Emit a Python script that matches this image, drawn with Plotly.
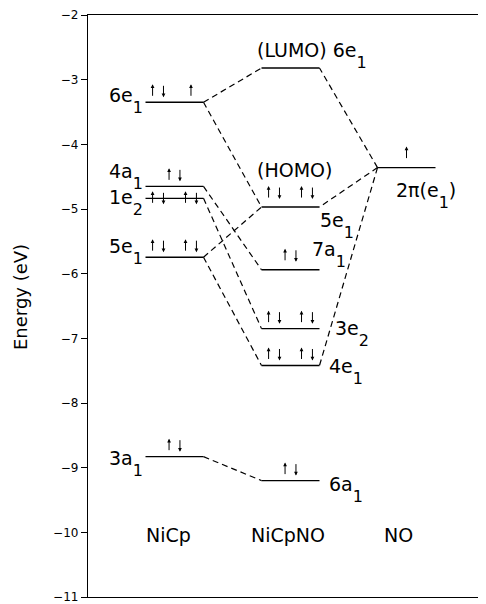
import plotly.graph_objects as go

# ---------------- data ----------------
columns = ["NiCp", "NiCpNO", "NO"]

nicp_levels = ["6e_1", "4a_1", "1e_2", "5e_1", "3a_1"]
nicp_energy = [-3.35, -4.65, -4.835, -5.745, -8.83]
nicp_occupancy = ["↑↓ ↑", "↑↓", "↑↓ ↑↓", "↑↓ ↑↓", "↑↓"]

nicpno_levels = ["6e_1", "5e_1", "7a_1", "3e_2", "4e_1", "6a_1"]
nicpno_energy = [-2.82, -4.97, -5.94, -6.85, -7.42, -9.20]
nicpno_occupancy = ["", "↑↓ ↑↓", "↑↓", "↑↓ ↑↓", "↑↓ ↑↓", "↑↓"]
nicpno_tags = ["(LUMO)", "(HOMO)", "", "", "", ""]

no_levels = ["2π(e_1)"]
no_energy = [-4.36]
no_occupancy = ["↑"]

correlations = [
    ("NiCp", "6e_1", "NiCpNO", "6e_1"),
    ("NiCp", "6e_1", "NiCpNO", "5e_1"),
    ("NiCp", "4a_1", "NiCpNO", "7a_1"),
    ("NiCp", "1e_2", "NiCpNO", "3e_2"),
    ("NiCp", "5e_1", "NiCpNO", "5e_1"),
    ("NiCp", "5e_1", "NiCpNO", "4e_1"),
    ("NiCp", "3a_1", "NiCpNO", "6a_1"),
    ("NO", "2π(e_1)", "NiCpNO", "6e_1"),
    ("NO", "2π(e_1)", "NiCpNO", "5e_1"),
    ("NO", "2π(e_1)", "NiCpNO", "4e_1"),
]

# ---------------- style / layout ----------------
FONT = "DejaVu Sans"
LBL = 19
SUB = 16
SUB_SHIFT = 11
SUB_CORR = 4.5   # vertical correction for the taller box of subscripted labels
HALF = 0.25
col_x = {"NiCp": 1.0, "NiCpNO": 2.0, "NO": 3.0}
ALEN = 13

levels = {
    "NiCp": dict(zip(nicp_levels, nicp_energy)),
    "NiCpNO": dict(zip(nicpno_levels, nicpno_energy)),
    "NO": dict(zip(no_levels, no_energy)),
}
occ = {
    "NiCp": dict(zip(nicp_levels, nicp_occupancy)),
    "NiCpNO": dict(zip(nicpno_levels, nicpno_occupancy)),
    "NO": dict(zip(no_levels, no_occupancy)),
}
arrow_gap = {("NiCpNO", "5e_1"): 8, ("NiCpNO", "7a_1"): 8, ("NO", "2π(e_1)"): 8,
             ("NiCp", "1e_2"): -6}

# label placement: (x in axis units, xanchor, vertical offset of text centre in px)
label_pos = {
    ("NiCp", "6e_1"): (0.746, "right", 6.5),
    ("NiCp", "4a_1"): (0.746, "right", 14.5),
    ("NiCp", "1e_2"): (0.746, "right", 0),
    ("NiCp", "5e_1"): (0.746, "right", 10.5),
    ("NiCp", "3a_1"): (0.746, "right", -2),
    ("NiCpNO", "6e_1"): (1.694, "left", 17.5),
    ("NiCpNO", "5e_1"): (2.237, "left", -14),
    ("NiCpNO", "7a_1"): (2.168, "left", 19.5),
    ("NiCpNO", "3e_2"): (2.366, "left", 0),
    ("NiCpNO", "4e_1"): (2.315, "left", -1.5),
    ("NiCpNO", "6a_1"): (2.315, "left", -4.5),
    ("NO", "2π(e_1)"): (2.895, "left", -23.5),
}
homo_pos = (1.694, "left", 37)
col_label_x = {"NiCp": 0.944, "NiCpNO": 1.978, "NO": 2.927}
col_label_y = -10.04


def fmt(label):
    if "_" in label:
        i = label.index("_")
        return (label[:i]
                + f"<span style='font-size:{SUB}px;baseline-shift:-{SUB_SHIFT}px'>"
                + label[i + 1] + "</span>" + label[i + 2:])
    return label


fig = go.Figure()

# level lines
for col in columns:
    for name, e in levels[col].items():
        cx = col_x[col]
        fig.add_trace(go.Scatter(x=[cx - HALF, cx + HALF], y=[e, e], mode="lines",
                                 line=dict(color="black", width=1.4),
                                 hoverinfo="skip", showlegend=False))

# correlation lines
for c1, n1, c2, n2 in correlations:
    x1, x2 = col_x[c1], col_x[c2]
    if x1 < x2:
        xa, xb = x1 + HALF, x2 - HALF
    else:
        xa, xb = x1 - HALF, x2 + HALF
    fig.add_trace(go.Scatter(x=[xa, xb], y=[levels[c1][n1], levels[c2][n2]], mode="lines",
                             line=dict(color="black", width=1.2, dash="6px,4px"),
                             hoverinfo="skip", showlegend=False))

# electrons
for col in columns:
    for name, e in levels[col].items():
        o = occ[col][name]
        if not o:
            continue
        groups = o.split()
        centers = [-0.142, 0.142] if len(groups) == 2 else [0.0]
        gap = arrow_gap.get((col, name), 5)
        for c, g in zip(centers, groups):
            subs = [(-0.047, "↑"), (0.047, "↓")] if len(g) == 2 else [(0.0, g)]
            for dx, s in subs:
                x = col_x[col] + c + dx
                if s == "↑":
                    ys, ay = gap + ALEN, ALEN
                else:
                    ys, ay = gap, -ALEN
                fig.add_annotation(x=x, y=e, yshift=ys, ax=0, ay=ay, text="",
                                   showarrow=True, arrowhead=2, arrowsize=0.75,
                                   arrowwidth=1, arrowcolor="black")

# level labels
for col in columns:
    for name, e in levels[col].items():
        lx, anc, off = label_pos[(col, name)]
        txt = fmt(name)
        if col == "NiCpNO" and nicpno_tags[nicpno_levels.index(name)] == "(LUMO)":
            txt = "(LUMO) " + txt
        fig.add_annotation(x=lx, y=e, yshift=off - SUB_CORR, text=txt, showarrow=False,
                           xanchor=anc, yanchor="middle",
                           font=dict(family=FONT, size=LBL, color="black"))
        if col == "NiCpNO" and nicpno_tags[nicpno_levels.index(name)] == "(HOMO)":
            hx, hanc, hoff = homo_pos
            fig.add_annotation(x=hx, y=e, yshift=hoff, text="(HOMO)", showarrow=False,
                               xanchor=hanc, yanchor="middle",
                               font=dict(family=FONT, size=LBL, color="black"))

# column labels
for col in columns:
    fig.add_annotation(x=col_label_x[col], y=col_label_y, text=col, showarrow=False,
                       xanchor="center", yanchor="middle",
                       font=dict(family=FONT, size=LBL, color="black"))

# y-axis title
fig.add_annotation(xref="paper", yref="paper", x=(20 - 88) / 398, y=(599 - 298) / 584,
                   text="Energy (eV)", textangle=-90, showarrow=False,
                   xanchor="center", yanchor="middle",
                   font=dict(family=FONT, size=18, color="black"))

# the page body has an 8px margin, so the figure is shrunk by 8px on each side
fig.update_layout(
    width=478, height=596,
    margin=dict(l=80, r=0, t=7, b=5),
    paper_bgcolor="white", plot_bgcolor="white",
    showlegend=False,
    xaxis=dict(range=[0.2543, 3.6853], showline=True, mirror=True, linecolor="black",
               linewidth=1.3, showticklabels=False, ticks="", showgrid=False,
               zeroline=False, fixedrange=True),
    yaxis=dict(range=[-11, -2], dtick=1, tick0=-11, ticks="outside", ticklen=6,
               tickwidth=1, tickcolor="black", showline=True, linecolor="black",
               linewidth=1.3, showgrid=False, zeroline=False, ticklabeloverflow="allow",
               tickfont=dict(family=FONT, size=12, color="black"), fixedrange=True),
)

fig.write_html("out.html")
